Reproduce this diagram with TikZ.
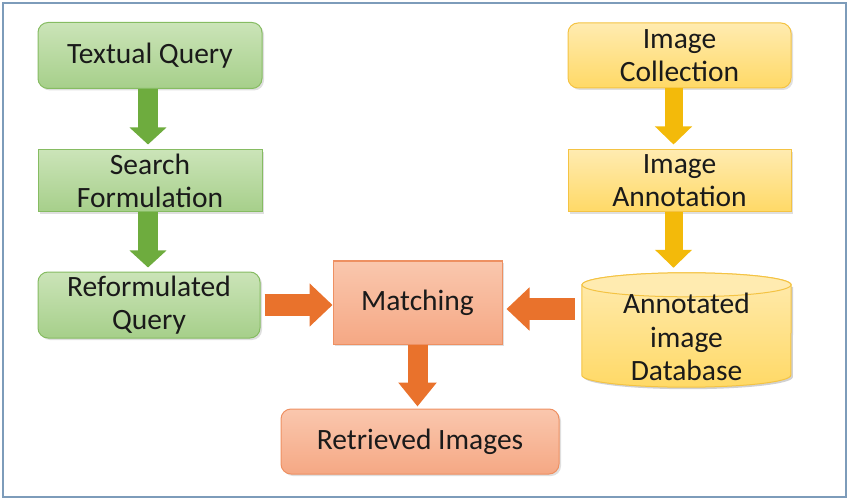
\documentclass[tikz,border=0pt]{standalone}
\usepackage{fontspec}
\setmainfont{Carlito}
\usetikzlibrary{arrows.meta,shadows,calc}
\definecolor{gfillA}{HTML}{CBE4B8}
\definecolor{gfillB}{HTML}{A6CF8A}
\definecolor{gline}{HTML}{86BC62}
\definecolor{garrow}{HTML}{6EAC3E}
\definecolor{yfillA}{HTML}{FFEBB0}
\definecolor{yfillB}{HTML}{FFD966}
\definecolor{yline}{HTML}{F4C343}
\definecolor{yarrowc}{HTML}{F3BA0A}
\definecolor{ofillA}{HTML}{FAC7AE}
\definecolor{ofillB}{HTML}{F5A884}
\definecolor{oline}{HTML}{EE9062}
\definecolor{oarrowc}{HTML}{E9722C}
\definecolor{framec}{HTML}{7D9CBA}
\definecolor{txt}{HTML}{1A1A1A}
\tikzset{
  box/.style={minimum width=224pt, minimum height=62pt, inner sep=1pt, align=center,
    font=\fontsize{29.5}{33}\selectfont, text=txt, line width=1pt,
    drop shadow={shadow xshift=2pt, shadow yshift=-2pt, opacity=0.25}},
  gbox/.style={box, draw=gline, top color=gfillA, bottom color=gfillB},
  ybox/.style={box, draw=yline, top color=yfillA, bottom color=yfillB},
  obox/.style={box, draw=oline, top color=ofillA, bottom color=ofillB},
  rnd/.style={rounded corners=10pt},
  garr/.style={draw=garrow, line width=20pt, -{Triangle[width=36pt,length=17pt]}, color=garrow},
  yarr/.style={draw=yarrowc, line width=18pt, -{Triangle[width=36pt,length=18pt]}, color=yarrowc},
  oarr/.style={draw=oarrowc, line width=22pt, -{Triangle[width=42pt,length=23pt]}, color=oarrowc},
  oarrv/.style={draw=oarrowc, line width=20pt, -{Triangle[width=37pt,length=24pt]}, color=oarrowc},
}
\begin{document}
\begin{tikzpicture}[x=1pt,y=1pt]
\useasboundingbox (0,0) rectangle (850,501);
\draw[framec, line width=1.5pt] (3,4) rectangle (846,498);

\node[gbox, rnd, minimum height=66pt] (tq) at (150,445.5) {Textual Query};
\node[gbox] (sf) at (150,320) {Search\\Formulation};
\node[gbox, rnd, minimum width=222pt, minimum height=66pt] (rq) at (149,196) {Reformulated\\Query};

\node[ybox, rnd, minimum width=223pt, minimum height=65pt] (ic) at (679.5,445.5) {Image\\Collection};
\node[ybox, minimum width=223pt] (ia) at (679.5,320) {Image\\Annotation};

\node[minimum width=209pt, minimum height=114pt, inner sep=0pt] (db) at (686.5,171) {};
\fill[black, opacity=0.18] ([shift={(2pt,-14pt)}]db.north west) -- ([shift={(2pt,10pt)}]db.south west)
  arc[start angle=180, end angle=360, x radius=104.5pt, y radius=12pt]
  -- ([shift={(2pt,-14pt)}]db.north east) -- cycle;
\path[draw=yline, line width=1pt, top color=yfillA, bottom color=yfillB]
  ([yshift=-12pt]db.north west) -- ([yshift=12pt]db.south west)
  arc[start angle=180, end angle=360, x radius=104.5pt, y radius=12pt]
  -- ([yshift=-12pt]db.north east)
  arc[start angle=0, end angle=180, x radius=104.5pt, y radius=12pt] -- cycle;
\draw[yline, line width=1pt, fill=yfillA] ([yshift=-12pt]db.north) ellipse[x radius=104.5pt, y radius=12pt];
\node[align=center, font=\fontsize{29.5}{33.5}\selectfont, text=txt] (dbt) at (686.5,164) {Annotated\\image\\Database};

\node[obox, minimum width=169pt, minimum height=83pt] (m) at (417.5,198.5) {Matching};
\node[obox, rnd, minimum width=278pt, minimum height=65pt] (ri) at (420,59.5) {Retrieved Images};

\draw[garr, shorten >=5pt] ([xshift=-2pt]tq.south) -- ([xshift=-2pt]sf.north);
\draw[garr, shorten >=4pt] ([xshift=-2pt]sf.south) -- ([xshift=-1pt]rq.north);
\draw[yarr, shorten >=5pt] ([xshift=-6pt]ic.south) -- ([xshift=-6pt]ia.north);
\draw[yarr, shorten >=5pt] ([xshift=-6pt]ia.south) -- ([xshift=-6pt]ia.south |- db.north);
\draw[oarr, shorten <=4pt] (rq.east) -- (rq.east -| m.west);
\draw[oarr, shorten <=7pt, shorten >=4pt] ([yshift=21pt]db.west) -- ([yshift=21pt]db.west -| m.east);
\draw[oarrv, shorten >=2pt] (m.south) -- (m.south |- ri.north);
\end{tikzpicture}
\end{document}
